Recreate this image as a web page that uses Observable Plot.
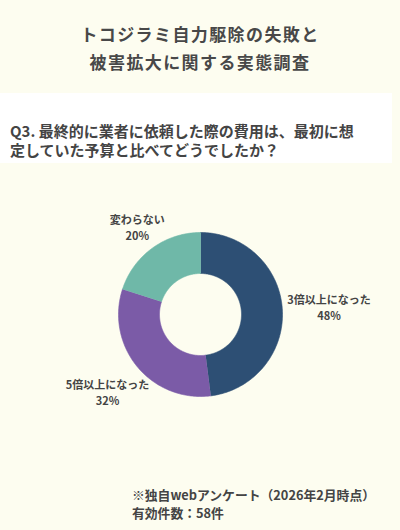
<!DOCTYPE html>
<html lang="ja">
<head>
<meta charset="utf-8">
<script src="https://cdn.jsdelivr.net/npm/d3@7"></script>
<script src="https://cdn.jsdelivr.net/npm/@observablehq/plot@0.6"></script>
<style>
  html, body { margin: 0; padding: 0; }
  body {
    width: 400px; height: 530px; position: relative; overflow: hidden;
    background: #fdfdf0;
    font-family: "Noto Sans CJK JP", "Noto Sans", sans-serif;
    color: #444;
  }
  #title {
    position: absolute; left: 0; top: 0; width: 400px; height: 93px;
    box-sizing: border-box; padding-top: 20px;
    text-align: center; font-size: 17px; font-weight: bold; line-height: 28px;
    letter-spacing: 1.4px; color: #484848;
  }
  #question {
    position: absolute; left: 0; top: 93px; width: 392px; height: 70px;
    background: #ffffff; box-sizing: border-box; padding: 28px 0 0 10px;
    font-size: 15px; font-weight: bold; line-height: 19px; letter-spacing: 0;
    color: #444;
  }
  #chart { position: absolute; left: 0; top: 170px; width: 400px; }
  #note {
    position: absolute; left: 132px; top: 486px;
    font-size: 12.8px; font-weight: bold; line-height: 18px; color: #444;
  }
</style>
</head>
<body>
<div id="title"></div>
<div id="question"></div>
<div id="chart"></div>
<div id="note"></div>
<script>
// ---- data ----
const titleLines = ["トコジラミ自力駆除の失敗と", "被害拡大に関する実態調査"];
const questionLines = ["Q3. 最終的に業者に依頼した際の費用は、最初に想", "定していた予算と比べてどうでしたか？"];
const categories = ["3倍以上になった", "5倍以上になった", "変わらない"];
const values = [48, 32, 20];
const colors = ["#2d4f74", "#7b5ba7", "#6fb8a8"];
const noteLines = ["※独自webアンケート（2026年2月時点）", "有効件数：58件"];

// ---- text blocks ----
document.getElementById("title").innerHTML = titleLines.join("<br>");
document.getElementById("question").innerHTML = questionLines.join("<br>");
document.getElementById("note").innerHTML = noteLines.join("<br>");

// ---- donut geometry (derived from data) ----
const outerR = 82, innerR = 41, labelOffset = 5, labelFont = 11, labelLineH = 16;
const table = categories.map((c, i) => ({label: c, value: values[i]}));
const arcs = d3.pie().sort(null).value(d => d.value).startAngle(0).endAngle(2 * Math.PI)(table);

const polys = [];
arcs.forEach(a => {
  const n = Math.max(8, Math.ceil((a.endAngle - a.startAngle) / (Math.PI / 180)));
  for (let k = 0; k <= n; k++) {
    const t = a.startAngle + (a.endAngle - a.startAngle) * k / n;
    polys.push({label: a.data.label, x: outerR * Math.sin(t), y: outerR * Math.cos(t)});
  }
  for (let k = n; k >= 0; k--) {
    const t = a.startAngle + (a.endAngle - a.startAngle) * k / n;
    polys.push({label: a.data.label, x: innerR * Math.sin(t), y: innerR * Math.cos(t)});
  }
});

function textWidth(s, fs) {
  let w = 0;
  for (const ch of s) w += ch.charCodeAt(0) > 0x2000 ? fs : fs * 0.6;
  return w;
}

const labels = arcs.map(a => {
  const mid = (a.startAngle + a.endAngle) / 2;
  const vx = Math.sin(mid), vy = Math.cos(mid);
  const pct = a.data.value + "%";
  const w = Math.max(textWidth(a.data.label, labelFont), textWidth(pct, labelFont));
  const h = labelLineH * 2;
  const proj = Math.hypot(w / 2 * vx, h / 2 * vy);
  const R = outerR + labelOffset + proj;
  return {x: R * vx, y: R * vy, text: a.data.label + "\n" + pct};
});

const chart = Plot.plot({
  width: 400,
  height: 290,
  margin: 0,
  x: {domain: [-200, 200], axis: null},
  y: {domain: [-146, 144], axis: null},
  color: {domain: categories, range: colors},
  style: {background: "transparent", overflow: "visible"},
  marks: [
    Plot.line(polys, {x: "x", y: "y", z: "label", fill: "label", stroke: "label", strokeWidth: 0.6}),
    Plot.text(labels, {
      x: "x", y: "y", text: "text",
      fill: "#444", fontSize: labelFont, fontWeight: "bold",
      lineHeight: labelLineH / labelFont, lineAnchor: "middle", textAnchor: "middle",
      fontFamily: "Noto Sans CJK JP"
    })
  ]
});
document.getElementById("chart").appendChild(chart);
</script>
</body>
</html>
